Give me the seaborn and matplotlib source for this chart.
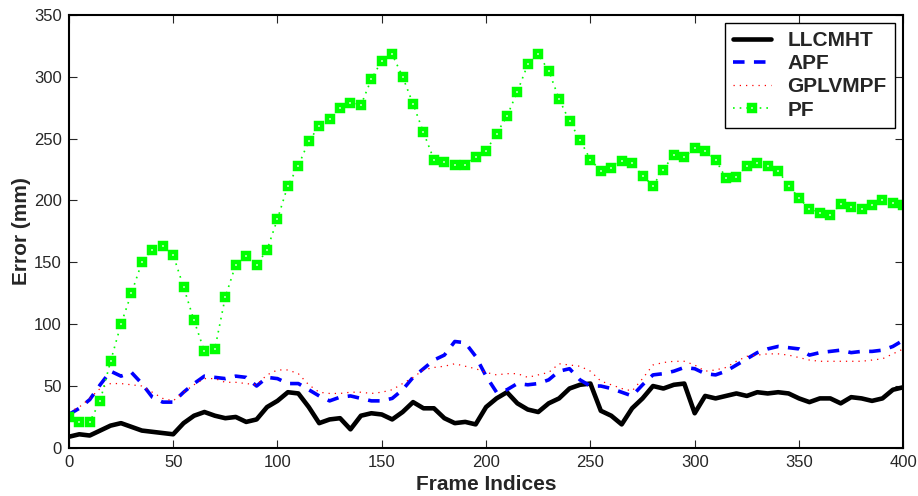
import matplotlib
matplotlib.use("Agg")
import matplotlib.pyplot as plt
import seaborn as sns
import pandas as pd

# frame indices (every 5th frame)
frames = list(range(0, 401, 5))

llcmht = [9, 11, 10, 14, 18, 20, 17, 14, 13, 12,
          11, 20, 26, 29, 26, 24, 25, 21, 23, 33,
          38, 45, 44, 33, 20, 23, 24, 15, 26, 28,
          27, 23, 29, 37, 32, 32, 24, 20, 21, 19,
          33, 40, 45, 36, 31, 29, 36, 40, 48, 51,
          52, 30, 26, 19, 32, 40, 50, 48, 51, 52,
          28, 42, 40, 42, 44, 42, 45, 44, 45, 44,
          40, 37, 40, 40, 36, 41, 40, 38, 40, 47,
          49]

apf = [27, 32, 39, 51, 62, 58, 61, 52, 41, 37,
       37, 45, 52, 58, 57, 56, 58, 57, 50, 57,
       56, 52, 52, 47, 42, 38, 41, 42, 40, 38,
       38, 40, 47, 57, 64, 71, 75, 86, 85, 74,
       58, 45, 47, 52, 51, 52, 55, 62, 64, 55,
       50, 50, 48, 45, 42, 51, 59, 60, 62, 65,
       64, 60, 59, 62, 67, 72, 77, 80, 82, 81,
       80, 75, 77, 78, 79, 77, 78, 78, 79, 82,
       87]

gplvmpf = [29, 33, 40, 48, 52, 52, 51, 50, 45, 40,
           38, 45, 51, 56, 56, 53, 53, 52, 51, 59,
           63, 63, 60, 51, 45, 44, 44, 45, 45, 44,
           45, 47, 52, 57, 63, 65, 66, 68, 66, 64,
           61, 59, 60, 60, 57, 59, 61, 68, 67, 66,
           62, 54, 51, 48, 46, 56, 67, 69, 70, 70,
           67, 62, 63, 65, 70, 74, 75, 76, 76, 75,
           73, 71, 70, 70, 70, 70, 70, 71, 72, 76,
           80]

pf = [25, 21, 21, 38, 70, 100, 125, 150, 160, 163,
      156, 130, 103, 78, 80, 122, 148, 155, 148, 160,
      185, 212, 228, 248, 260, 266, 275, 279, 277, 298,
      313, 318, 300, 278, 255, 233, 231, 229, 229, 235,
      240, 254, 268, 288, 310, 318, 305, 282, 264, 249,
      233, 224, 226, 232, 230, 220, 212, 225, 237, 235,
      242, 240, 233, 218, 219, 228, 230, 228, 224, 212,
      202, 193, 190, 188, 197, 195, 193, 196, 200, 198,
      196]

x_ticks = [0, 50, 100, 150, 200, 250, 300, 350, 400]
y_ticks = [0, 50, 100, 150, 200, 250, 300, 350]

sns.set_style("ticks")
plt.rcParams["font.family"] = ["Liberation Sans", "DejaVu Sans"]

fig = plt.figure(figsize=(9.18, 4.96), dpi=100)
ax = fig.add_axes([0.075, 0.097, 0.909, 0.873])

df = pd.DataFrame({"frame": frames, "LLCMHT": llcmht, "APF": apf,
                   "GPLVMPF": gplvmpf, "PF": pf})

sns.lineplot(data=df, x="frame", y="LLCMHT", ax=ax, color="black",
             linewidth=3.3, label="LLCMHT")
sns.lineplot(data=df, x="frame", y="APF", ax=ax, color="blue",
             linewidth=2.6, label="APF")
ax.lines[-1].set_dashes([3.2, 2.6])
sns.lineplot(data=df, x="frame", y="GPLVMPF", ax=ax, color="red",
             linewidth=0.9, label="GPLVMPF")
ax.lines[-1].set_dashes([1, 4])
sns.lineplot(data=df, x="frame", y="PF", ax=ax, color="#00ff00",
             linewidth=1.2, label="PF", marker="s", markersize=5.0,
             markeredgewidth=3.2, markerfacecolor="white",
             markeredgecolor="#00ff00")
ax.lines[-1].set_dashes([1, 3])

ax.set_xlim(0, 400)
ax.set_ylim(0, 350)
ax.set_xticks(x_ticks)
ax.set_yticks(y_ticks)
ax.tick_params(direction="in", length=6, width=0.8, labelsize=12,
               top=True, right=True, pad=5)
for s in ax.spines.values():
    s.set_visible(True)
    s.set_linewidth(1.5)
    s.set_color("black")

ax.set_xlabel("Frame Indices", fontsize=15, fontweight="bold", labelpad=4)
ax.set_ylabel("Error (mm)", fontsize=15, fontweight="bold", labelpad=2)

leg = ax.legend(loc="upper right", bbox_to_anchor=(0.99, 0.982),
                borderaxespad=0, fancybox=False, framealpha=1,
                edgecolor="black", handlelength=1.8, handletextpad=0.8,
                labelspacing=0.2, borderpad=0.4,
                prop={"size": 15, "weight": "bold"})
leg.get_frame().set_linewidth(1.0)

fig.savefig("out.png", dpi=100)
